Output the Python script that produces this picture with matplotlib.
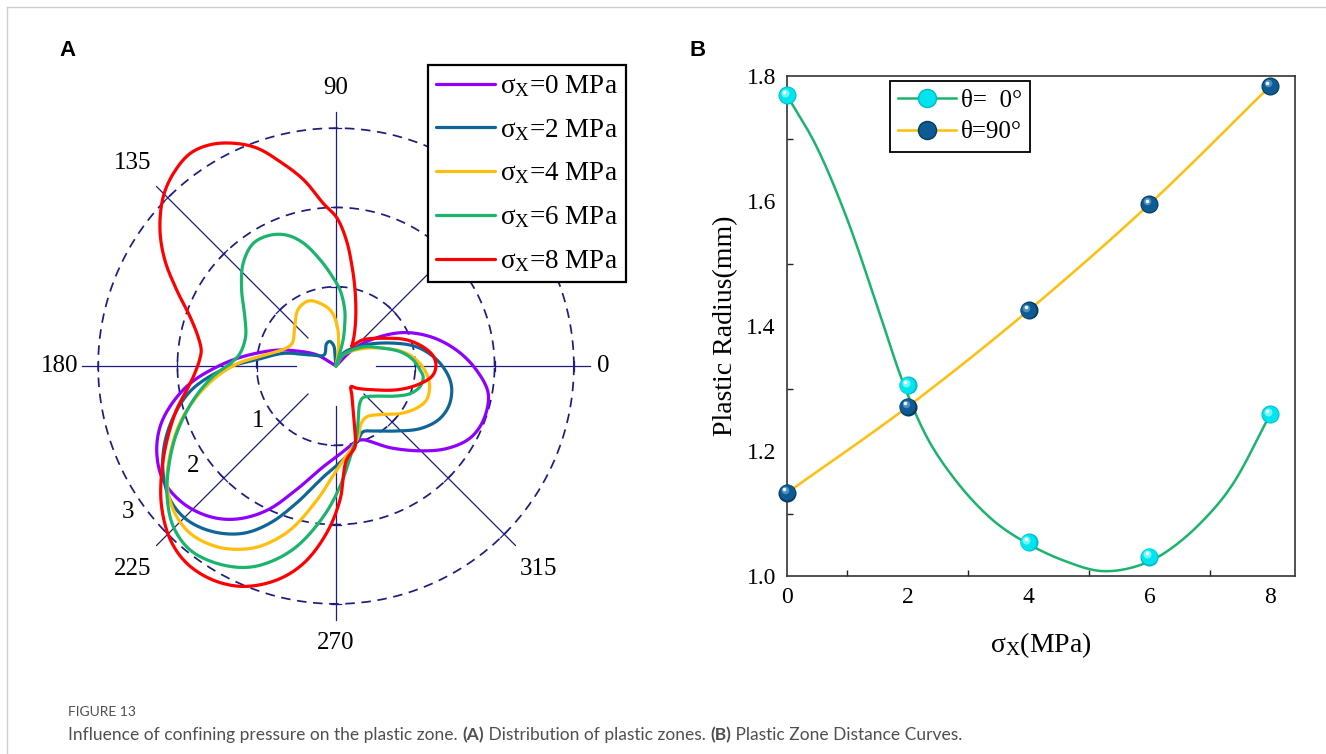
import numpy as np
import matplotlib
matplotlib.use("Agg")
import matplotlib.pyplot as plt
from matplotlib import transforms
from matplotlib.lines import Line2D
from matplotlib.ticker import FormatStrFormatter

plt.rcParams['font.family'] = ['Liberation Serif', 'DejaVu Serif']
plt.rcParams['mathtext.fontset'] = 'custom'
plt.rcParams['mathtext.rm'] = 'Liberation Serif'
plt.rcParams['mathtext.it'] = 'Liberation Serif:italic'
plt.rcParams['mathtext.bf'] = 'Liberation Serif:bold'

# ---------------- panel A: plastic zone outlines (x, y in radius units) ----------------
sigma_x = [0, 2, 4, 6, 8]
zone_colors = ["#9000ff", "#106597", "#ffbe0b", "#1bb46d", "#ff0000"]

zone0_x = [0, 0.18, 0.39, 0.81, 1.19, 1.52, 1.77, 1.92, 1.86, 1.69, 1.40, 1.07, 0.68, 0.43, 0.34,
           0.26, 0.09, -0.16, -0.50, -0.87, -1.25, -1.59, -1.93, -2.18, -2.26, -2.22, -2.08,
           -1.84, -1.50, -1.17, -0.75, -0.50, -0.24, -0.05, 0]
zone0_y = [0, 0.18, 0.31, 0.42, 0.37, 0.20, -0.05, -0.35, -0.68, -0.91, -1.04, -1.07, -1.03, -0.95,
           -0.93, -0.95, -1.08, -1.27, -1.56, -1.82, -1.93, -1.90, -1.73, -1.44, -1.10, -0.77,
           -0.49, -0.22, -0.01, 0.12, 0.20, 0.19, 0.14, 0.03, 0]

zone2_x = [0, 0.09, 0.34, 0.68, 1.02, 1.27, 1.42, 1.46, 1.42, 1.29, 1.06, 0.77, 0.49, 0.34, 0.28,
           0.13, -0.16, -0.50, -0.83, -1.17, -1.55, -1.88, -2.09, -2.18, -2.16, -2.03, -1.84,
           -1.59, -1.31, -1.00, -0.66, -0.33, -0.15, -0.12, -0.08, -0.03, -0.01, 0]
zone2_y = [0, 0.16, 0.26, 0.29, 0.24, 0.08, -0.13, -0.30, -0.51, -0.68, -0.79, -0.82, -0.82, -0.83,
           -0.93, -1.14, -1.40, -1.73, -1.98, -2.11, -2.09, -1.94, -1.69, -1.35, -0.97, -0.60,
           -0.32, -0.13, 0.00, 0.08, 0.16, 0.14, 0.14, 0.28, 0.31, 0.26, 0.10, 0]

zone4_x = [0, 0.09, 0.34, 0.64, 0.89, 1.06, 1.16, 1.18, 1.14, 1.02, 0.81, 0.59, 0.39, 0.32, 0.28,
           0.24, 0.01, -0.24, -0.58, -0.92, -1.17, -1.50, -1.84, -2.05, -2.13, -2.09, -1.97,
           -1.76, -1.50, -1.24, -0.96, -0.75, -0.62, -0.55, -0.52, -0.48, -0.35, -0.20, -0.06,
           0.02, 0.03, 0]
zone4_y = [0, 0.14, 0.22, 0.22, 0.16, 0.03, -0.14, -0.28, -0.43, -0.53, -0.60, -0.61, -0.64, -0.72,
           -0.89, -0.97, -1.31, -1.69, -2.07, -2.26, -2.31, -2.28, -2.11, -1.82, -1.48, -1.10,
           -0.72, -0.39, -0.13, 0.03, 0.12, 0.18, 0.23, 0.29, 0.50, 0.71, 0.82, 0.79, 0.69,
           0.48, 0.20, 0]

zone6_x = [0, 0.09, 0.34, 0.55, 0.81, 0.97, 1.06, 1.10, 1.06, 0.93, 0.74, 0.51, 0.34, 0.30, 0.28,
           0.26, 0.22, 0.05, -0.16, -0.50, -0.83, -1.13, -1.50, -1.84, -2.05, -2.13, -2.11,
           -2.01, -1.80, -1.55, -1.31, -1.21, -1.14, -1.15, -1.19, -1.17, -1.04, -0.83, -0.62,
           -0.41, -0.20, -0.06, 0.05, 0.11, 0.11, 0.09, 0.03, 0]
zone6_y = [0, 0.14, 0.24, 0.23, 0.18, 0.08, -0.05, -0.14, -0.26, -0.35, -0.38, -0.38, -0.40, -0.47,
           -0.68, -0.89, -1.02, -1.52, -1.90, -2.28, -2.47, -2.54, -2.49, -2.32, -2.03, -1.65,
           -1.27, -0.85, -0.43, -0.13, 0.05, 0.16, 0.37, 0.62, 0.96, 1.30, 1.55, 1.65, 1.65,
           1.55, 1.34, 1.15, 0.96, 0.71, 0.52, 0.33, 0.10, 0]

zone8_x = [0.20, 0.34, 0.60, 0.89, 1.10, 1.23, 1.26, 1.21, 1.02, 0.77, 0.47, 0.26, 0.19, 0.20, 0.22,
           0.24, 0.24, 0.13, 0.05, -0.12, -0.41, -0.75, -1.17, -1.55, -1.88, -2.09, -2.20, -2.20,
           -2.13, -2.01, -1.88, -1.78, -1.72, -1.70, -1.74, -1.84, -2.01, -2.16, -2.22, -2.18,
           -2.05, -1.84, -1.59, -1.30, -1.00, -0.71, -0.41, -0.16, 0.01, 0.13, 0.20, 0.24, 0.25,
           0.23, 0.20]
zone8_y = [0.25, 0.33, 0.35, 0.33, 0.24, 0.12, -0.01, -0.13, -0.24, -0.30, -0.30, -0.28, -0.26,
           -0.37, -0.60, -0.85, -1.02, -1.19, -1.69, -2.11, -2.49, -2.70, -2.78, -2.70, -2.49,
           -2.19, -1.77, -1.35, -0.93, -0.55, -0.30, -0.09, 0.08, 0.20, 0.37, 0.62, 0.96, 1.34,
           1.72, 2.13, 2.43, 2.68, 2.79, 2.81, 2.75, 2.58, 2.35, 2.05, 1.87, 1.59, 1.27, 0.96,
           0.64, 0.39, 0.25]

zones = [(zone0_x, zone0_y), (zone2_x, zone2_y), (zone4_x, zone4_y),
         (zone6_x, zone6_y), (zone8_x, zone8_y)]

ring_r = [1, 2, 3]
angle_ticks = [0, 45, 90, 135, 180, 225, 270, 315]
angle_labels = [0, 90, 135, 180, 225, 270, 315]   # 45 sits under the legend

# ---------------- panel B: plastic radius vs sigma_x ----------------
sx = [0, 2, 4, 6, 8]
r_theta0 = [1.769, 1.305, 1.054, 1.031, 1.259]
r_theta90 = [1.133, 1.271, 1.425, 1.595, 1.784]
# green fitted line
fit0_x = [0, 0.5, 1.0, 1.5, 1.9, 2.3, 2.8, 3.4, 4.0, 4.6, 5.2, 5.8, 6.3, 6.9, 7.4, 8.0]
fit0_y = [1.769, 1.685, 1.570, 1.430, 1.315, 1.225, 1.152, 1.090, 1.051, 1.024, 1.008, 1.016,
          1.040, 1.090, 1.150, 1.259]


def smooth(xs, ys, n=14):
    # centripetal Catmull-Rom through the given points (open curve)
    p = np.column_stack([xs, ys]).astype(float)
    p = np.vstack([2 * p[0] - p[1], p, 2 * p[-1] - p[-2]])
    out = [p[1]]
    for i in range(len(p) - 3):
        p0, p1, p2, p3 = p[i:i + 4]
        t0 = 0.0
        t1 = t0 + max(np.linalg.norm(p1 - p0), 1e-6) ** 0.5
        t2 = t1 + max(np.linalg.norm(p2 - p1), 1e-6) ** 0.5
        t3 = t2 + max(np.linalg.norm(p3 - p2), 1e-6) ** 0.5
        t = np.linspace(t1, t2, n)[1:, None]
        a1 = (t1 - t) / (t1 - t0) * p0 + (t - t0) / (t1 - t0) * p1
        a2 = (t2 - t) / (t2 - t1) * p1 + (t - t1) / (t2 - t1) * p2
        a3 = (t3 - t) / (t3 - t2) * p2 + (t - t2) / (t3 - t2) * p3
        b1 = (t2 - t) / (t2 - t0) * a1 + (t - t0) / (t2 - t0) * a2
        b2 = (t3 - t) / (t3 - t1) * a2 + (t - t1) / (t3 - t1) * a3
        out.extend((t2 - t) / (t2 - t1) * b1 + (t - t1) / (t2 - t1) * b2)
    out = np.array(out)
    return out[:, 0], out[:, 1]


W, H = 1326, 754
fig = plt.figure(figsize=(W / 100, H / 100), dpi=100)
navy = "#1d1d7e"

# ---------- panel A ----------
axA = fig.add_axes([40 / W, 1 - 662 / H, 592 / W, 592 / H])
lim = 3.733
axA.set_xlim(-lim, lim)
axA.set_ylim(-lim, lim)
axA.axis('off')

phi = np.linspace(0, 2 * np.pi, 600)
for r in ring_r:
    axA.plot(r * np.cos(phi), r * np.sin(phi), color=navy, lw=1.25,
             ls=(0, (5.5, 3.8)), zorder=1)

label_r = {0: 3.37, 90: 3.5, 180: 3.48, 270: 3.49}
for a in angle_ticks:
    c, s = np.cos(np.radians(a)), np.sin(np.radians(a))
    axA.plot([0.5 * c, 3.2 * c], [0.5 * s, 3.2 * s], color=navy, lw=0.9, zorder=1)
    for r in ring_r:
        axA.plot([r * c - 0.065 * s, r * c + 0.065 * s], [r * s + 0.065 * c, r * s - 0.065 * c],
                 color=navy, lw=0.9, zorder=1)
    if a in angle_labels:
        lr = label_r.get(a, 3.62)
        axA.text(lr * c, lr * s, str(a), fontsize=18, ha='center', va='center', zorder=2)

for r in ring_r:
    a = np.radians(215)
    axA.text((r + 0.2) * np.cos(a), (r + 0.2) * np.sin(a), str(r), fontsize=18,
             ha='center', va='center', zorder=2)

handles = []
for (zx, zy), col, sg in zip(zones, zone_colors, sigma_x):
    xs, ys = smooth(zx, zy)
    ln, = axA.plot(xs, ys, color=col, lw=2.3, zorder=3, solid_capstyle='round')
    handles.append(ln)

legA = axA.legend(handles, ["σ$_{\\mathrm{X}}$=%d MPa" % v for v in sigma_x],
                  loc='upper right', bbox_to_anchor=(626 / W, 1 - 65 / H),
                  bbox_transform=fig.transFigure, fontsize=19.5, frameon=True, fancybox=False,
                  edgecolor='black', framealpha=1, handlelength=2.15, handletextpad=0.2,
                  labelspacing=0.66, borderpad=0.3, borderaxespad=0)
legA.get_frame().set_linewidth(1.6)
legA.set_zorder(10)

# ---------- panel B ----------
axB = fig.add_axes([787 / W, 1 - 576 / H, (1295 - 787) / W, (576 - 76) / H])
axB.set_xlim(0, 8.41)
axB.set_ylim(1.0, 1.8)
axB.set_xticks([0, 2, 4, 6, 8])
axB.set_yticks([1.0, 1.2, 1.4, 1.6, 1.8])
axB.set_xticks([1, 3, 5, 7], minor=True)
axB.set_yticks([1.1, 1.3, 1.5, 1.7], minor=True)
axB.yaxis.set_major_formatter(FormatStrFormatter('%.1f'))
axB.tick_params(which='major', length=0, pad=8, labelsize=17)
axB.tick_params(which='minor', direction='in', length=4.5, width=1.0, color='#222222')
for sp in axB.spines.values():
    sp.set_color('#333333')
    sp.set_linewidth(1.2)

gx, gy = smooth(fit0_x, fit0_y, n=20)
axB.plot(gx, gy, color="#1bb46d", lw=1.8, zorder=2)
yx, yy = smooth(sx, r_theta90, n=30)
axB.plot(yx, yy, color="#ffbe0b", lw=1.8, zorder=2)


def sphere(ax, x, y, layers, ms, z):
    for k, (col, frac, dx, dy) in enumerate(layers):
        tr = transforms.offset_copy(ax.transData, fig=fig, x=dx, y=dy, units='points')
        ax.plot(x, y, 'o', ms=ms * frac, mfc=col, mec='none', ls='none', transform=tr,
                zorder=z + k * 0.01, clip_on=False)


cyan_layers = [("#00b9c9", 1.0, 0, 0), ("#00e4ee", 0.9, -0.3, 0.3),
               ("#6ff6fb", 0.45, -1.6, 1.8), ("#ffffff", 0.2, -2.0, 2.4)]
blue_layers = [("#073b62", 1.0, 0, 0), ("#0d5b92", 0.88, -0.3, 0.3),
               ("#4e8fbf", 0.42, -1.6, 1.9), ("#f2f7fb", 0.2, -2.0, 2.5)]
sphere(axB, sx, r_theta0, cyan_layers, 13, 4)
sphere(axB, sx, r_theta90, blue_layers, 13, 4)

hB = [Line2D([], [], color="#1bb46d", lw=1.8, marker='o', ms=13, mfc="#00e4ee", mec="#00b9c9"),
      Line2D([], [], color="#ffbe0b", lw=1.8, marker='o', ms=13, mfc="#0d5b92", mec="#073b62")]
legB = axB.legend(hB, ["θ=  0°", "θ=90°"], loc='upper left',
                  bbox_to_anchor=(890 / W, 1 - 81 / H), bbox_transform=fig.transFigure,
                  fontsize=18, frameon=True, fancybox=False, edgecolor='black', framealpha=1,
                  handlelength=2.3, handletextpad=0.2, labelspacing=0.36, borderpad=0.33,
                  borderaxespad=0)
legB.get_frame().set_linewidth(1.3)

axB.set_ylabel("Plastic Radius(mm)", fontsize=20, labelpad=6)
axB.set_xlabel("σ$_{\\mathrm{X}}$(MPa)", fontsize=20, labelpad=16)

# ---------- panel letters, caption, frame ----------
fig.text(68 / W, 1 - 50 / H, "A", fontsize=16, fontweight='bold', family='Liberation Sans',
         ha='center', va='center')
fig.text(698 / W, 1 - 50 / H, "B", fontsize=16, fontweight='bold', family='Liberation Sans',
         ha='center', va='center')

cap_color = "#4f4f4f"
fig.text(68 / W, 1 - 712 / H, "FIGURE 13", fontsize=10, family='Lato', color=cap_color,
         va='center', ha='left')
capax = fig.add_axes([0, 0, 1, 1])
capax.axis('off')
pieces = [("Influence of confining pressure on the plastic zone. ", 'normal'),
          ("(A)", 'bold'), (" Distribution of plastic zones. ", 'normal'),
          ("(B)", 'bold'), (" Plastic Zone Distance Curves.", 'normal')]
prev = None
for txt, wt in pieces:
    if prev is None:
        prev = capax.text(68 / W, 1 - 743 / H, txt, fontsize=12.5, family='Lato',
                          color=cap_color, fontweight=wt, ha='left', va='bottom')
    else:
        prev = capax.annotate(txt, xy=(1, 0), xycoords=prev, fontsize=12.5, family='Lato',
                              color=cap_color, fontweight=wt, ha='left', va='bottom')

fig.add_artist(Line2D([7 / W, 1], [1 - 7 / H, 1 - 7 / H], transform=fig.transFigure,
                      color='#cfcfcf', lw=1))
fig.add_artist(Line2D([7 / W, 7 / W], [0, 1 - 7 / H], transform=fig.transFigure,
                      color='#cfcfcf', lw=1))

fig.savefig("out.png", dpi=100)
